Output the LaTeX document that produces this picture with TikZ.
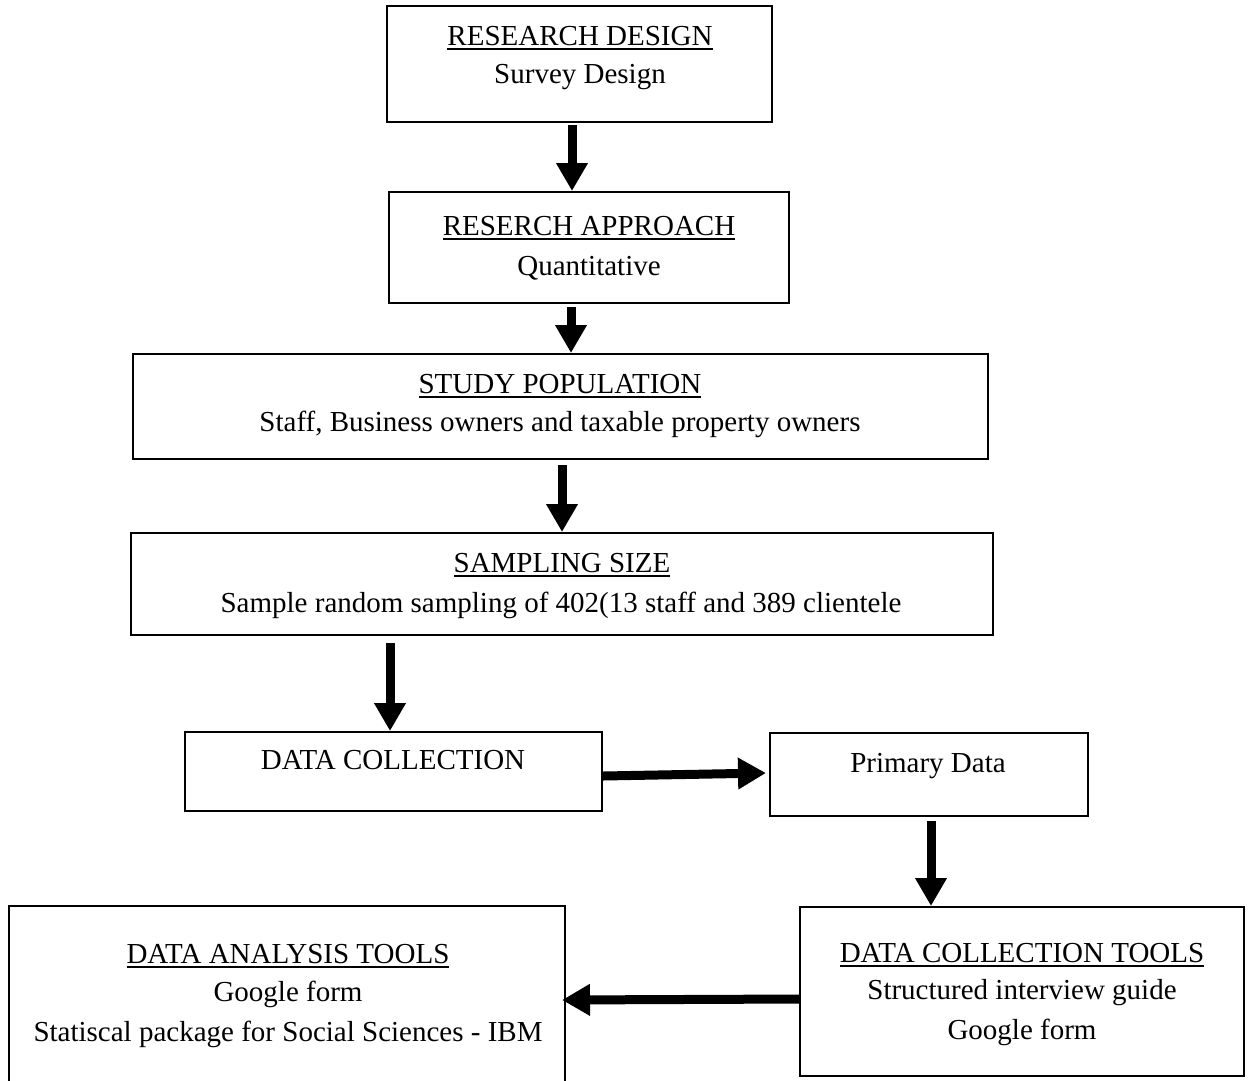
\documentclass[tikz,border=0pt]{standalone}
\usepackage{fontspec}
\setmainfont{Liberation Serif}
\usetikzlibrary{arrows.meta}
\newcommand{\ulx}[1]{\leavevmode\setbox0\hbox{#1}\rlap{\rule[-5pt]{\wd0}{1.8pt}}\box0}
\begin{document}
\begin{tikzpicture}[x=1pt,y=-1pt,
  box/.style={draw, line width=2pt, inner sep=0pt, anchor=center},
  txt/.style={anchor=base, inner sep=0pt, font=\fontsize{29}{39}\selectfont},
  arr/.style={line width=9pt, -{Triangle[length=28pt,width=30pt]}}]
\clip (0,0) rectangle (1248,1080);
\fill[white] (0,0) rectangle (1248,1080);

% boxes
\node[box, minimum width=385pt, minimum height=116pt] (b1) at (579.5,64) {};
\node[box, minimum width=400pt, minimum height=111pt] (b2) at (589,247.5) {};
\node[box, minimum width=855pt, minimum height=105pt] (b3) at (560.5,406.5) {};
\node[box, minimum width=862pt, minimum height=102pt] (b4) at (562,584) {};
\node[box, minimum width=417pt, minimum height=79pt] (b5) at (393.5,771.5) {};
\node[box, minimum width=318pt, minimum height=83pt] (b6) at (929,774.5) {};
\node[box, minimum width=556pt, minimum height=189pt] (b7) at (287,1000.5) {};
\node[box, minimum width=444pt, minimum height=169pt] (b8) at (1022,991.5) {};

% texts
\node[txt] (t1a) at (580,45) {\ulx{RESEARCH DESIGN}};
\node[txt] (t1b) at (580,83) {Survey Design};
\node[txt] (t2a) at (589,235) {\ulx{RESERCH APPROACH}};
\node[txt] (t2b) at (589,275) {Quantitative};
\node[txt] (t3a) at (560,393) {\ulx{STUDY POPULATION}};
\node[txt] (t3b) at (560,431) {Staff, Business owners and taxable property owners};
\node[txt] (t4a) at (562,572) {\ulx{SAMPLING SIZE}};
\node[txt] (t4b) at (561,612) {Sample random sampling of 402(13 staff and 389 clientele};
\node[txt] (t5) at (393,769) {DATA COLLECTION};
\node[txt] (t6) at (928,772) {Primary Data};
\node[txt] (t7a) at (288,963) {\ulx{DATA ANALYSIS TOOLS}};
\node[txt] (t7b) at (288,1001) {Google form};
\node[txt] (t7c) at (288,1041) {Statiscal package for Social Sciences - IBM};
\node[txt] (t8a) at (1022,962) {\ulx{DATA COLLECTION TOOLS}};
\node[txt] (t8b) at (1022,999) {Structured interview guide};
\node[txt] (t8c) at (1022,1039) {Google form};

% arrows
\draw[arr] ([xshift=-7.5pt,yshift=-2pt]b1.south) -- ([xshift=-17pt]b2.north);
\draw[arr] ([xshift=-18pt,yshift=-3pt]b2.south) -- ([xshift=10.5pt]b3.north);
\draw[arr] ([xshift=1.5pt,yshift=-5pt]b3.south) -- (b4.north);
\draw[arr] ([xshift=-172pt,yshift=-7pt]b4.south) -- ([xshift=-3.5pt]b5.north);
\draw[arr] ([yshift=-4.5pt]b5.east) -- ([yshift=1.5pt,xshift=-3pt]b6.west);
\draw[arr] ([xshift=2pt,yshift=-4pt]b6.south) -- ([xshift=-91pt]b8.north);
\draw[arr] ([yshift=-7.5pt]b8.west) -- ([yshift=0.5pt,xshift=-4pt]b7.east);
\end{tikzpicture}
\end{document}
